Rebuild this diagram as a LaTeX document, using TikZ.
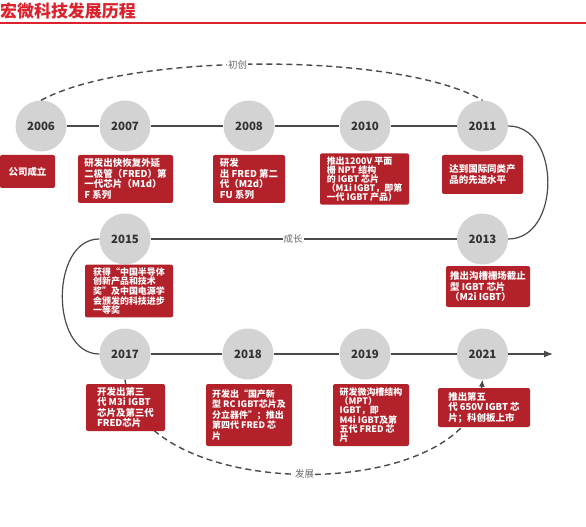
\documentclass[tikz,border=0pt]{standalone}
\usepackage{fontspec}
\setmainfont{Noto Sans CJK SC}
\usetikzlibrary{arrows.meta}
\definecolor{boxred}{HTML}{B3212A}
\definecolor{titlered}{HTML}{DC222C}
\definecolor{dotgray}{HTML}{D3D3D3}
\definecolor{linegray}{HTML}{4A4A4A}
\definecolor{yeartext}{HTML}{333333}

\begin{document}
\begin{tikzpicture}[x=1bp, y=-1bp,
  year/.style={circle, fill=dotgray, minimum size=51bp, inner sep=0pt, font=\fontsize{11.5}{13}\selectfont\bfseries, text=yeartext},
  event/.style={fill=boxred, rounded corners=2bp, text=white, align=left, inner sep=3bp, font=\fontsize{9.5}{10.5}\selectfont\bfseries},
  phase/.style={fill=white, text=black!60, inner sep=1bp, font=\fontsize{9.5}{11}\selectfont},
  link/.style={draw=linegray, line width=1.2bp},
  stage/.style={draw=linegray, line width=1.4bp, dash pattern=on 6bp off 4bp}
]
\useasboundingbox (0,0) rectangle (586,527);

% title
\node[anchor=west, inner sep=0pt, text=titlered, font=\fontsize{17}{20}\selectfont\bfseries] (title) at (0,11) {宏微科技发展历程};
\draw[titlered, line width=1.3bp] (0,23) -- (586,23);

% years
\node[year] (y2006) at (41,126) {2006};
\node[year] (y2007) at (125,126) {2007};
\node[year] (y2008) at (249,126) {2008};
\node[year] (y2010) at (365,126) {2010};
\node[year] (y2011) at (482.5,126) {2011};
\node[year] (y2013) at (482.5,239) {2013};
\node[year] (y2015) at (125,239) {2015};
\node[year] (y2017) at (125,354) {2017};
\node[year] (y2018) at (248,354) {2018};
\node[year] (y2019) at (365,354) {2019};
\node[year] (y2021) at (482.5,354) {2021};
\coordinate (tip) at (553,354);

% stages
\draw[stage] (y2006.north) .. controls (130,52) and (400,52) .. node[phase, pos=0.45] {初创} (y2011.north);
\draw[stage, -{Latex[length=7bp,width=6bp]}] (y2017.south) .. controls (140,505) and (470,505) .. node[phase, pos=0.5] {发展} (y2021.south);

% timeline
\draw[link] (y2006) -- (y2007);
\draw[link] (y2007) -- (y2008);
\draw[link] (y2008) -- (y2010);
\draw[link] (y2010) -- (y2011);
\draw[link] (y2011.east) to[out=0, in=0, looseness=1.2] (y2013.east);
\draw[link] (y2013) -- node[phase, pos=0.535] {成长} (y2015);
\draw[link] (y2015.west) to[out=180, in=180, looseness=1.1] (y2017.west);
\draw[link] (y2017) -- (y2018);
\draw[link] (y2018) -- (y2019);
\draw[link] (y2019) -- (y2021);
\draw[link, -{Latex[length=9bp,width=7bp]}] (y2021) -- (tip);

% events
\node[event, minimum width=55bp, minimum height=33bp] (e2006) at (27.5,171.5) {公司成立};
\node[event, minimum width=95bp, minimum height=48bp] (e2007) at (125.5,179) {研发出快恢复外延\\二极管（FRED）第\\一代芯片（M1d）\\F 系列};
\node[event, minimum width=72bp, minimum height=48bp] (e2008) at (249,179) {研发\\出 FRED 第二\\代（M2d）\\FU 系列};
\node[event, minimum width=89bp, minimum height=48bp, font=\fontsize{9}{9.2}\selectfont\bfseries] (e2010) at (364.5,179) {推出1200V 平面\\栅 NPT 结构\\的 IGBT 芯片\\（M1i IGBT，即第\\一代 IGBT 产品）};
\node[event, minimum width=81bp, minimum height=39bp] (e2011) at (482.5,174.5) {达到国际同类产\\品的先进水平};
\node[event, minimum width=84bp, minimum height=41bp] (e2013) at (488,286.5) {推出沟槽栅场截止\\型 IGBT 芯片\\（M2i IGBT）};
\node[event, minimum width=88bp, minimum height=50bp, font=\fontsize{9}{9.6}\selectfont\bfseries] (e2015) at (129,291) {获得“中国半导体\\创新产品和技术\\奖”及中国电源学\\会颁发的科技进步\\一等奖};
\node[event, minimum width=79bp, minimum height=47bp] (e2017) at (125.5,407.5) {开发出第三\\代 M3i IGBT\\芯片及第三代\\FRED芯片};
\node[event, minimum width=86bp, minimum height=62bp, font=\fontsize{9}{10.5}\selectfont\bfseries] (e2018) at (249,415) {开发出“国产新\\型 RC IGBT芯片及\\分立器件”；推出\\第四代 FRED 芯\\片};
\node[event, minimum width=76bp, minimum height=62bp, font=\fontsize{9}{9.4}\selectfont\bfseries] (e2019) at (371,415) {研发微沟槽结构\\（MPT）\\IGBT，即\\M4i IGBT及第\\五代 FRED 芯\\片};
\node[event, minimum width=92bp, minimum height=39bp] (e2021) at (484,407.5) {推出第五\\代 650V IGBT 芯\\片；科创板上市};
\end{tikzpicture}
\end{document}
